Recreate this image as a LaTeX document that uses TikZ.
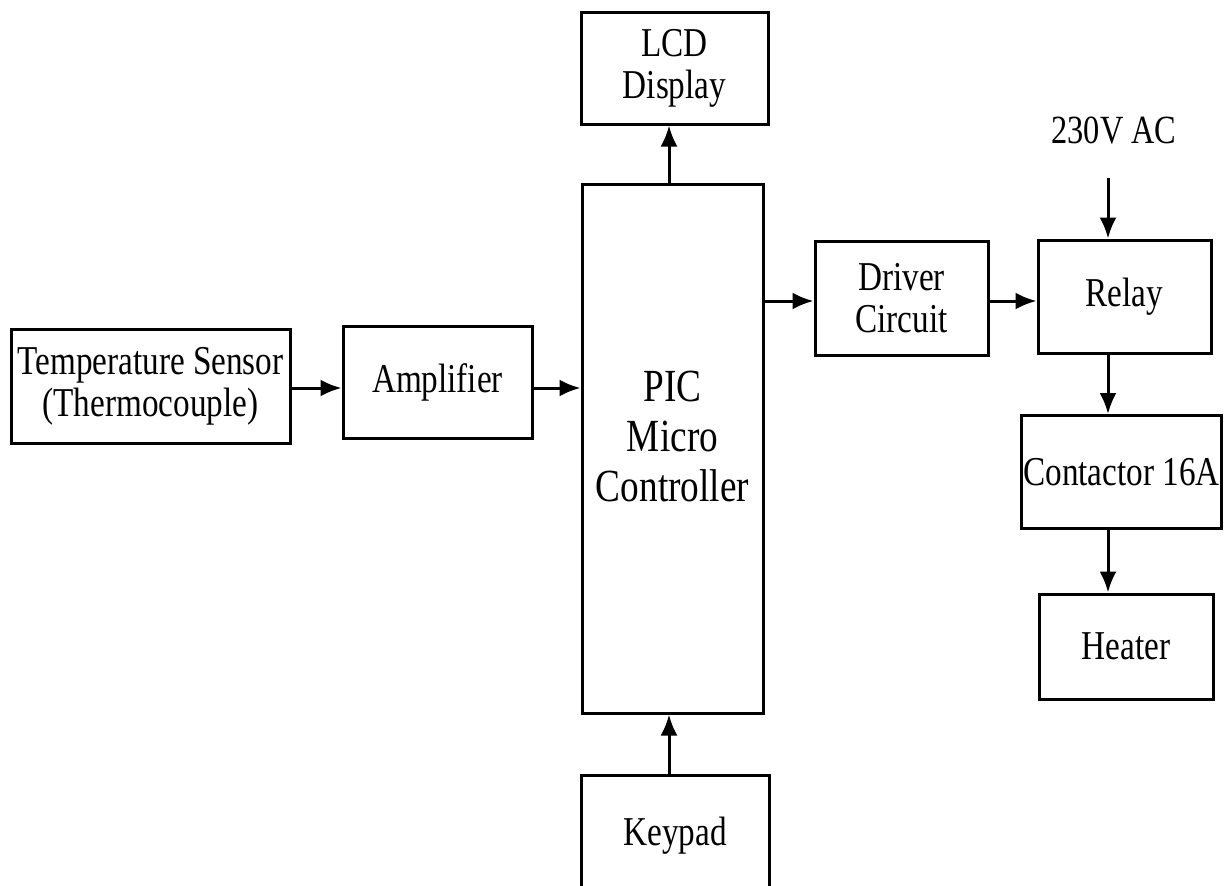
\documentclass[tikz,border=0pt]{standalone}
\usepackage{fontspec}
\setmainfont[FakeStretch=0.81]{Liberation Serif}
\usetikzlibrary{arrows.meta}

\begin{document}
\begin{tikzpicture}[x=1pt,y=-1pt,
    blk/.style={draw,line width=3pt,align=center,inner sep=0pt,font=\fontsize{41}{42}\selectfont},
    arr/.style={line width=3pt,-{Latex[length=21pt,width=17pt]}}]
  \useasboundingbox (0,0) rectangle (1229,886);
  % blocks: name/centre x/centre y/width/height/text
  \foreach \nn/\cx/\cy/\bw/\bh/\txt in {
      temp/150.5/386/279/114/{Temperature Sensor\\(Thermocouple)},
      amp/437.5/382/189/112/{Amplifier},
      lcd/674.5/68/187/112/{LCD\\Display},
      keypad/675/836/188/122/{Keypad},
      driver/901.5/298/173/114/{Driver\\Circuit},
      relay/1124.5/296.5/173/113/{Relay},
      contactor/1121.5/472/200/113/{Contactor 16A},
      heater/1126/646.5/174/105/{Heater}}{
    \node[blk,minimum width=\bw pt,minimum height=\bh pt] (\nn) at (\cx,\cy) {\txt};
  }
  \node[blk,minimum width=181pt,minimum height=529pt,
    label={[align=center,font=\fontsize{46}{50}\selectfont,yshift=12pt]center:{PIC\\Micro\\Controller}}] (pic) at (672.5,448.5) {};
  \node[font=\fontsize{40}{42}\selectfont] (acv) at (1114,131) {230V AC};
  % signal rows / columns
  \coordinate (inrow) at (0,388);
  \coordinate (outrow) at (0,301);
  \coordinate (midcol) at (669,0);
  \coordinate (acin) at (1108,178);
  \draw[arr] (temp.east |- inrow) -- (amp.west |- inrow);
  \draw[arr] (amp.east |- inrow) -- (pic.west |- inrow);
  \draw[arr] (pic.north -| midcol) -- (lcd.south -| midcol);
  \draw[arr] (keypad.north -| midcol) -- (pic.south -| midcol);
  \draw[arr] (pic.east |- outrow) -- (driver.west |- outrow);
  \draw[arr] (driver.east |- outrow) -- (relay.west |- outrow);
  \draw[arr] (acin) -- (relay.north -| acin);
  \draw[arr] (relay.south -| acin) -- (contactor.north -| acin);
  \draw[arr] (contactor.south -| acin) -- (heater.north -| acin);
\end{tikzpicture}
\end{document}
